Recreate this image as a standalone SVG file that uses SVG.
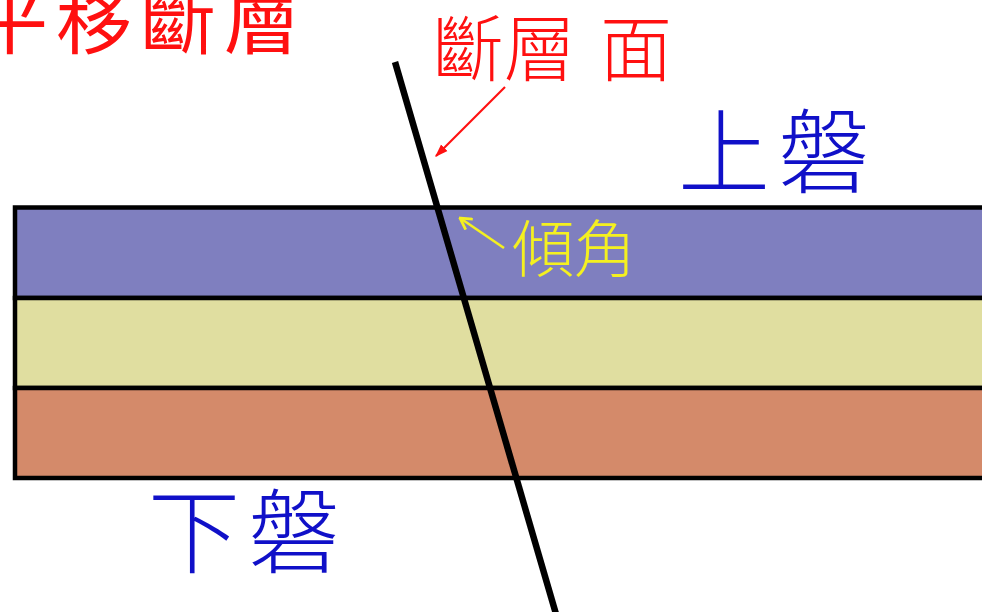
<svg xmlns="http://www.w3.org/2000/svg" width="982" height="612" viewBox="0 0 982 612">
  <style>
    .cjk { font-family: "Noto Sans CJK TC", "Noto Sans CJK SC", sans-serif; }
    .thin { font-weight: 300; }
    .red { fill: #ff1010; }
    .blue { fill: #1010c8; }
    .yel { fill: #f4f020; }
    .bed { stroke: #000; stroke-width: 4.5; }
  </style>
  <defs>
    <marker id="redHead" viewBox="0 0 10 10" refX="9" refY="5" markerWidth="13" markerHeight="13" orient="auto" markerUnits="userSpaceOnUse">
      <path d="M0,1.5 L10,5 L0,8.5 Z" fill="#ff1010"/>
    </marker>
    <marker id="yelHead" viewBox="0 0 10 10" refX="9" refY="5" markerWidth="14" markerHeight="14" orient="auto" markerUnits="userSpaceOnUse">
      <path d="M1,0.5 L9,5 L1,9.5" fill="none" stroke="#f4f020" stroke-width="2"/>
    </marker>
  </defs>
  <rect width="982" height="612" fill="#fff"/>

  <!-- rock layers -->
  <g id="layers">
    <rect x="15" y="207.5" width="980" height="90.5" fill="#7f7fbf" class="bed"/>
    <rect x="15" y="298" width="980" height="90" fill="#e0dea0" class="bed"/>
    <rect x="15" y="388" width="980" height="90" fill="#d48a6a" class="bed"/>
  </g>

  <!-- fault plane trace -->
  <g id="fault">
    <line x1="395" y1="62" x2="556" y2="614" stroke="#000" stroke-width="6.5"/>
  </g>

  <!-- connectors -->
  <g id="connectors">
    <line x1="505" y1="87" x2="436" y2="156" stroke="#ff1010" stroke-width="2.2" marker-end="url(#redHead)"/>
    <line x1="504" y1="248" x2="460" y2="218" stroke="#f4f020" stroke-width="2.6" marker-end="url(#yelHead)"/>
  </g>

  <!-- labels -->
  <g id="title">
    <text x="-28" y="48" class="cjk red" font-size="76" letter-spacing="8">平移斷層</text>
  </g>
  <g id="fault-label">
    <text x="432" y="75" class="cjk thin red" font-size="72">斷層</text>
    <text x="600" y="75" class="cjk thin red" font-size="72">面</text>
  </g>
  <g id="upper-block">
    <text x="678" y="186" class="cjk thin blue" font-size="92">上</text>
    <text x="778" y="186" class="cjk thin blue" font-size="92">磐</text>
  </g>
  <g id="lower-block">
    <text x="148" y="566" class="cjk thin blue" font-size="92">下</text>
    <text x="248" y="566" class="cjk thin blue" font-size="92">磐</text>
  </g>
  <g id="dip-label">
    <text x="512" y="272" class="cjk thin yel" font-size="62">傾角</text>
  </g>
</svg>
